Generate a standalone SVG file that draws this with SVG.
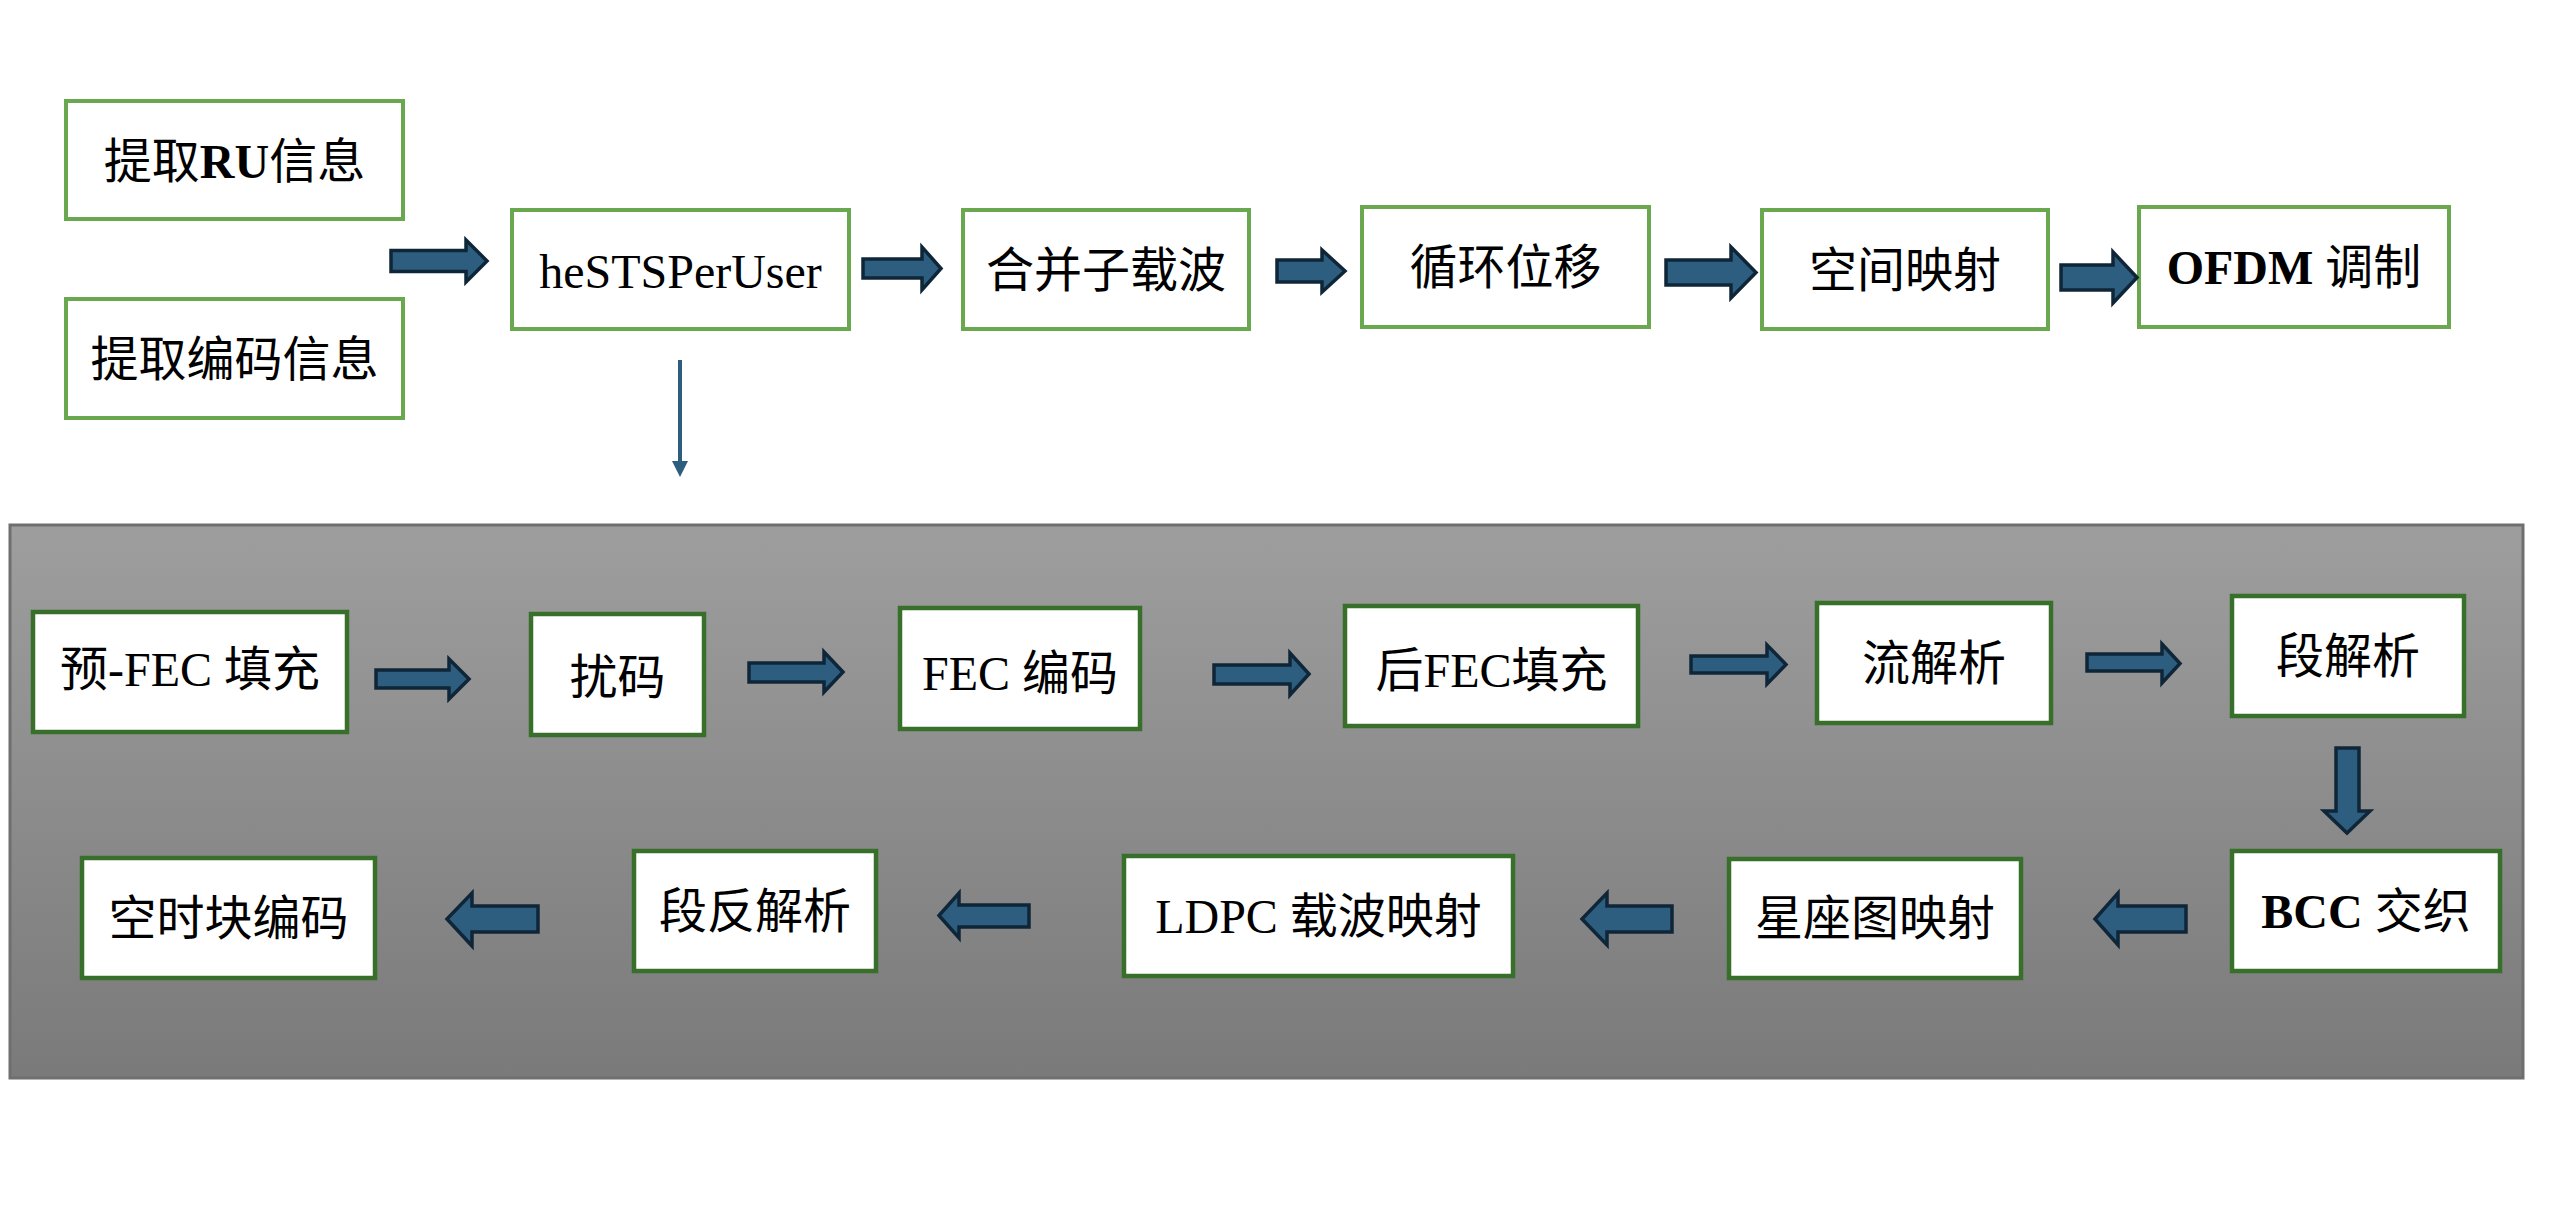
<svg xmlns="http://www.w3.org/2000/svg" width="2560" height="1214" viewBox="0 0 2560 1214">
<defs>
<linearGradient id="panelGrad" x1="0" y1="0" x2="0" y2="1">
<stop offset="0" stop-color="#9e9e9e"/>
<stop offset="1" stop-color="#7a7a7a"/>
</linearGradient>
<style>
.top rect{fill:#ffffff;stroke:#6aa84f;stroke-width:4}
.bot rect{fill:#ffffff;stroke:#38702b;stroke-width:4.5}
text{font-family:"Liberation Serif","Noto Sans CJK SC",serif;font-size:48px;fill:#000000;text-anchor:middle}
.b{font-weight:bold}
.blk{fill:#2e5e7f;stroke:#0f2639;stroke-width:3.5;stroke-linejoin:miter}
</style>
</defs>
<rect width="2560" height="1214" fill="#ffffff"/>
<rect id="panel" x="10" y="525" width="2513" height="553" fill="url(#panelGrad)" stroke="#6f6f6f" stroke-width="3"/>

<g id="n1" class="top"><rect x="66" y="101" width="337" height="118"/><text x="234.5" y="178">提取<tspan class="b">RU</tspan>信息</text></g>
<g id="n2" class="top"><rect x="66" y="299" width="337" height="119"/><text x="234.5" y="376">提取编码信息</text></g>
<g id="n3" class="top"><rect x="512" y="210" width="337" height="119"/><text x="680.5" y="288">heSTSPerUser</text></g>
<g id="n4" class="top"><rect x="963" y="210" width="286" height="119"/><text x="1106" y="287">合并子载波</text></g>
<g id="n5" class="top"><rect x="1362" y="207" width="287" height="120"/><text x="1505.5" y="284">循环位移</text></g>
<g id="n6" class="top"><rect x="1762" y="210" width="286" height="119"/><text x="1905" y="287">空间映射</text></g>
<g id="n7" class="top"><rect x="2139" y="207" width="310" height="120"/><text x="2294" y="284"><tspan class="b">OFDM</tspan> 调制</text></g>

<g id="m1" class="bot"><rect x="33" y="612" width="314" height="120"/><text x="190" y="686">预-FEC 填充</text></g>
<g id="m2" class="bot"><rect x="531" y="614" width="173" height="121"/><text x="617.5" y="694">扰码</text></g>
<g id="m3" class="bot"><rect x="900" y="608" width="240" height="121"/><text x="1020" y="690">FEC 编码</text></g>
<g id="m4" class="bot"><rect x="1345" y="606" width="293" height="120"/><text x="1491.5" y="687">后FEC填充</text></g>
<g id="m5" class="bot"><rect x="1817" y="603" width="234" height="120"/><text x="1934" y="680">流解析</text></g>
<g id="m6" class="bot"><rect x="2232" y="596" width="232" height="120"/><text x="2348" y="673">段解析</text></g>
<g id="m7" class="bot"><rect x="2232" y="851" width="268" height="120"/><text x="2366" y="928"><tspan class="b">BCC</tspan> 交织</text></g>
<g id="m8" class="bot"><rect x="1729" y="859" width="292" height="119"/><text x="1875" y="935">星座图映射</text></g>
<g id="m9" class="bot"><rect x="1124" y="856" width="389" height="120"/><text x="1318.5" y="933">LDPC 载波映射</text></g>
<g id="m10" class="bot"><rect x="634" y="851" width="242" height="120"/><text x="755" y="928">段反解析</text></g>
<g id="m11" class="bot"><rect x="82" y="858" width="293" height="120"/><text x="228.5" y="935">空时块编码</text></g>

<g id="connectors">
<path class="blk" d="M391,250.5 H466 V240 L487,261 L466,282 V271.5 H391 Z"/>
<path class="blk" d="M863,259 H922 V247 L941,268.5 L922,290 V278 H863 Z"/>
<path class="blk" d="M1277,260 H1322 V250 L1345,271 L1322,292 V282 H1277 Z"/>
<path class="blk" d="M1666,260 H1731 V247 L1756,272.5 L1731,298 V285 H1666 Z"/>
<path class="blk" d="M2061,265 H2113 V252 L2137,277.5 L2113,303 V290 H2061 Z"/>
<line x1="680" y1="360" x2="680" y2="463" stroke="#2e5e7f" stroke-width="4"/>
<polygon points="672,461 688,461 680,477" fill="#2e5e7f"/>
<path class="blk" d="M376,670 H449 V659 L469,679 L449,699 V688 H376 Z"/>
<path class="blk" d="M749,663 H824 V652 L843,672 L824,692 V682 H749 Z"/>
<path class="blk" d="M1214,665 H1290 V653 L1309,674 L1290,695 V684 H1214 Z"/>
<path class="blk" d="M1691,656 H1767 V645 L1786,664.5 L1767,684 V673 H1691 Z"/>
<path class="blk" d="M2087,654 H2162 V644 L2180,663.5 L2162,683 V671 H2087 Z"/>
<path class="blk" d="M2336,748 H2359 V811 H2370 L2347,833 L2324,811 H2336 Z"/>
<path class="blk" d="M2186,906 H2118 V893 L2095,919 L2118,945 V932 H2186 Z"/>
<path class="blk" d="M1672,906 H1607 V893 L1582,919 L1607,945 V932 H1672 Z"/>
<path class="blk" d="M1029,905 H959 V893 L939,915.5 L959,938 V927 H1029 Z"/>
<path class="blk" d="M538,906 H472 V893 L447,919 L472,946 V932 H538 Z"/>
</g>
</svg>
